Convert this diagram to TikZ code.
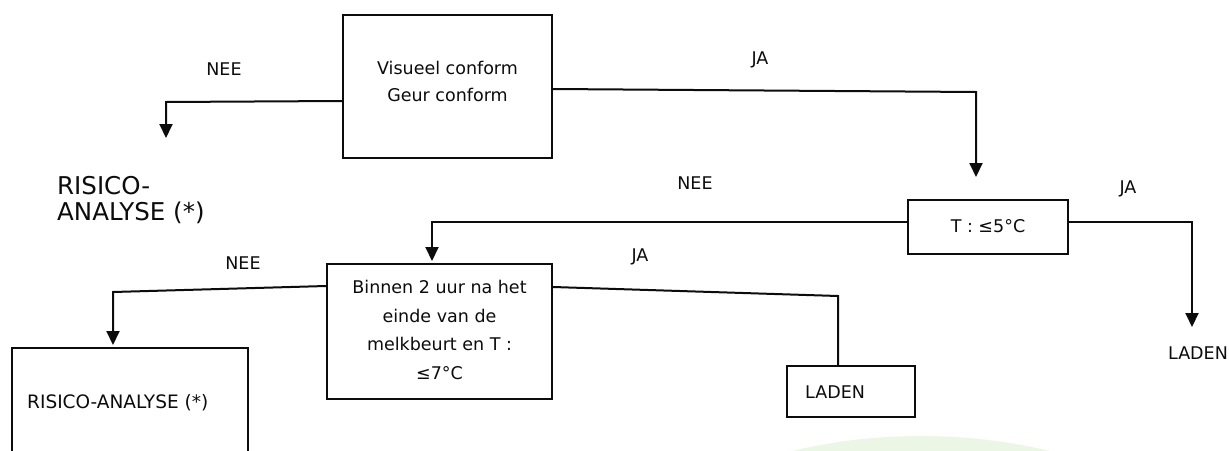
\documentclass[tikz,border=0pt]{standalone}
\usepackage{fontspec}
\setmainfont{DejaVu Sans}
\usetikzlibrary{arrows.meta}
\definecolor{wm}{RGB}{236,246,228}
\definecolor{ink}{RGB}{12,12,12}
\begin{document}
\begin{tikzpicture}[x=1pt,y=-1pt,
  box/.style={draw=ink, line width=2pt, inner sep=0pt},
  txt/.style={inner sep=0pt, text=ink, font=\fontsize{17.5}{28.5}\selectfont},
  conn/.style={draw=ink, line width=2pt, line join=miter},
  tip/.style={-{Triangle[width=13pt,length=14pt]}}
]
\useasboundingbox (0,0) rectangle (1229,450);
\clip (0,0) rectangle (1229,450);
\fill[white] (0,0) rectangle (1229,450);
\fill[wm] (921,992) circle[radius=556];

% boxes
\node[box, minimum width=209pt, minimum height=143pt] (b1) at (447.5,86.5) {};
\node[txt, align=center, font=\fontsize{17.5}{27}\selectfont] (b1t) at (447.5,81.5) {Visueel conform\\Geur conform};
\node[box, minimum width=160pt, minimum height=54pt] (t5) at (988,227) {};
\node[txt] (t5t) at (988,226) {T : ≤5°C};
\node[box, minimum width=225pt, minimum height=135pt] (m) at (439.5,331.5) {};
\node[txt, align=center] (mt) at (439.5,330) {Binnen 2 uur na het\\einde van de\\melkbeurt en T :\\≤7°C};
\node[box, minimum width=128pt, minimum height=51pt] (l1) at (851,391.5) {};
\node[txt, anchor=west] (l1t) at (805,392) {LADEN};
\node[box, minimum width=236pt, minimum height=120pt] (r2) at (130,408) {};
\node[txt, anchor=west, font=\fontsize{18.5}{22}\selectfont] (r2t) at (27,403) {RISICO-ANALYSE (*)};

% free texts
\node[txt, anchor=west, align=left, font=\fontsize{24.5}{26.5}\selectfont] (r1) at (57,200) {RISICO-\\ANALYSE (*)};
\node[txt] (l2) at (1198,353) {LADEN};

% labels
\node[txt] (n1) at (224,69) {NEE};
\node[txt] (j1) at (760,60) {JA};
\node[txt] (n2) at (695,183) {NEE};
\node[txt] (j2) at (1128,189) {JA};
\node[txt] (n3) at (243,263) {NEE};
\node[txt] (j3) at (640,257) {JA};

% connectors
\coordinate (a1) at (166,138);
\draw[conn, tip] ([yshift=-14.5pt]b1.west) -- (166,102) -- (a1);
\coordinate (a2) at (976,177);
\draw[conn, tip] ([yshift=-2.5pt]b1.east) -- (976,92) -- (a2);
\draw[conn, tip] ([yshift=5pt]t5.west) -- (432,222) -- ([xshift=-7.5pt,yshift=2pt]m.north);
\coordinate (a4) at (1192,327);
\draw[conn, tip] ([yshift=5pt]t5.east) -- (1192,222) -- (a4);
\draw[conn, tip] ([yshift=45.5pt]m.west) -- (113,292) -- ([xshift=-17pt,yshift=2pt]r2.north);
\draw[conn] ([yshift=44.5pt]m.east) -- (838,296) -- ([xshift=-13pt]l1.north);
\end{tikzpicture}
\end{document}
